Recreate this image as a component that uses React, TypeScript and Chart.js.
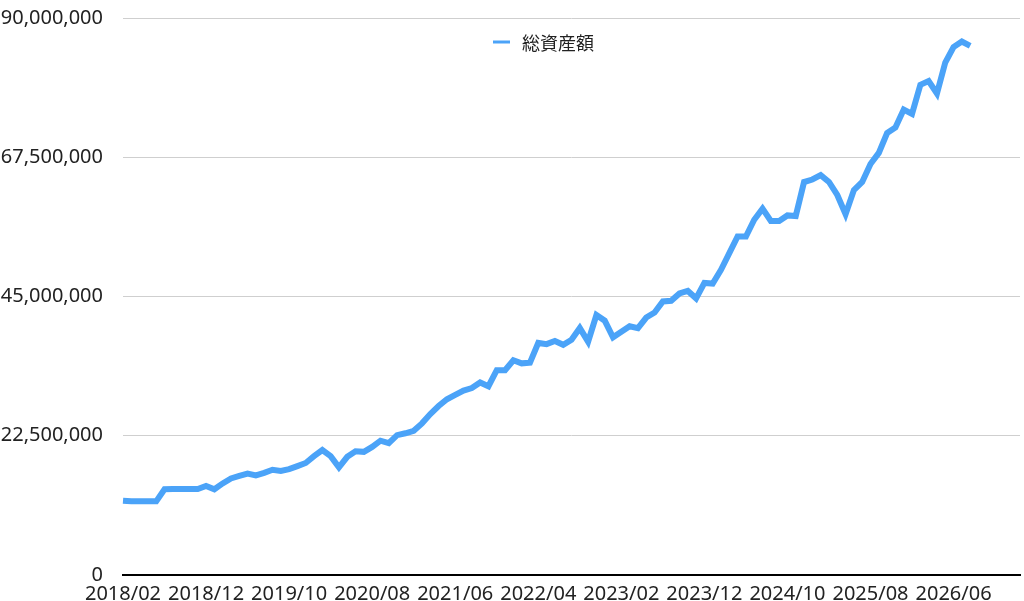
import React, { useEffect, useRef } from "react";
import { Chart, registerables } from "chart.js";

Chart.register(...registerables);

const SERIES_LABEL = "総資産額";
const START_YEAR = 2018;
const START_MONTH = 2;
const AXIS_MONTHS = 109; // category slots on the x axis (2018/02 .. 2027/02)

// 総資産額 (yen), monthly from 2018/02
const TOTAL_ASSETS: number[] = [
  12000000, 11900000, 11900000, 11900000, 11900000, 13850000, 13900000, 13900000, 13900000, 13900000,
  14400000, 13850000, 14800000, 15600000, 16000000, 16400000, 16100000, 16500000, 17000000, 16800000,
  17100000, 17600000, 18100000, 19200000, 20200000, 19200000, 17400000, 19100000, 20000000, 19900000,
  20700000, 21700000, 21300000, 22600000, 22900000, 23300000, 24500000, 26000000, 27300000, 28400000,
  29100000, 29800000, 30200000, 31100000, 30500000, 33100000, 33100000, 34700000, 34200000, 34300000,
  37500000, 37300000, 37800000, 37200000, 38000000, 39900000, 37700000, 42000000, 41100000, 38400000,
  39300000, 40200000, 39900000, 41600000, 42400000, 44200000, 44300000, 45500000, 45900000, 44700000,
  47200000, 47100000, 49300000, 52000000, 54700000, 54700000, 57400000, 59200000, 57200000, 57200000,
  58100000, 58000000, 63500000, 63900000, 64600000, 63500000, 61400000, 58300000, 62200000, 63500000,
  66400000, 68200000, 71400000, 72300000, 75200000, 74500000, 79200000, 79800000, 77800000, 82800000,
  85300000, 86200000, 85500000,
];

const X_TICK_LABELS = [
  "2018/02", "2018/12", "2019/10", "2020/08", "2021/06", "2022/04",
  "2023/02", "2023/12", "2024/10", "2025/08", "2026/06",
];

const Y_MIN = 0;
const Y_MAX = 90000000;
const Y_STEP = 22500000;

function monthLabels(): string[] {
  const out: string[] = [];
  for (let i = 0; i < AXIS_MONTHS; i++) {
    const t = (START_MONTH - 1) + i;
    const y = START_YEAR + Math.floor(t / 12);
    const m = (t % 12) + 1;
    out.push(`${y}/${m < 10 ? "0" + m : m}`);
  }
  return out;
}

const LINE_COLOR = "#4ba3f8";
const TEXT_COLOR = "#222";
const NUM_FONT = "'Noto Sans', 'Liberation Sans', sans-serif";
const CJK_FONT = "'Noto Sans CJK JP', sans-serif";

const legendPlugin = {
  id: "customLegend",
  afterDraw(chart: any) {
    const ctx = chart.ctx;
    const ds = chart.data.datasets[0];
    ctx.save();
    ctx.strokeStyle = ds.borderColor;
    ctx.lineWidth = 3;
    ctx.beginPath();
    ctx.moveTo(493, 42);
    ctx.lineTo(510, 42);
    ctx.stroke();
    ctx.fillStyle = TEXT_COLOR;
    ctx.font = `18px ${CJK_FONT}`;
    ctx.textBaseline = "middle";
    ctx.textAlign = "left";
    ctx.fillText(ds.label, 522, 43);
    ctx.restore();
  },
};

export default function App() {
  const ref = useRef<HTMLCanvasElement | null>(null);
  useEffect(() => {
    if (!ref.current) return;
    const labels = monthLabels();
    const chart = new Chart(ref.current, {
      type: "line",
      data: {
        labels,
        datasets: [
          {
            label: SERIES_LABEL,
            data: TOTAL_ASSETS,
            borderColor: LINE_COLOR,
            backgroundColor: LINE_COLOR,
            borderWidth: 6,
            pointRadius: 0,
            pointHoverRadius: 0,
            tension: 0,
            fill: false,
            borderJoinStyle: "miter",
          },
        ],
      },
      plugins: [legendPlugin],
      options: {
        animation: false,
        responsive: true,
        maintainAspectRatio: false,
        layout: { padding: { top: 18, right: 4, left: 0, bottom: 0 } },
        plugins: {
          legend: { display: false },
          tooltip: { enabled: false },
        },
        scales: {
          x: {
            type: "category",
            offset: false,
            grid: { display: false, drawTicks: false },
            border: { display: true, color: "#000", width: 2 },
            ticks: {
              autoSkip: false,
              maxRotation: 0,
              minRotation: 0,
              padding: 7,
              color: TEXT_COLOR,
              font: { size: 20, family: NUM_FONT },
              callback: function (this: any, _v: any, idx: number) {
                const l = labels[idx];
                return X_TICK_LABELS.includes(l) ? l : "";
              },
            },
            afterFit: (scale: any) => {
              scale.height = 26;
              scale.paddingLeft = 0;
              scale.paddingRight = 0;
            },
          },
          y: {
            min: Y_MIN,
            max: Y_MAX,
            grid: { color: "#cfcfcf", lineWidth: 1, drawTicks: false },
            border: { display: false },
            ticks: {
              stepSize: Y_STEP,
              padding: 20,
              color: TEXT_COLOR,
              font: { size: 20, family: NUM_FONT },
              callback: (v: any) => Number(v).toLocaleString("en-US"),
            },
            afterFit: (scale: any) => {
              scale.width = 123;
              scale.paddingTop = 0;
              scale.paddingBottom = 0;
            },
          },
        },
      },
    });
    return () => chart.destroy();
  }, []);
  return (
    <div style={{ position: "fixed", left: 0, top: 0, width: 1024, height: 601, background: "#fff" }}>
      <canvas ref={ref} />
    </div>
  );
}
